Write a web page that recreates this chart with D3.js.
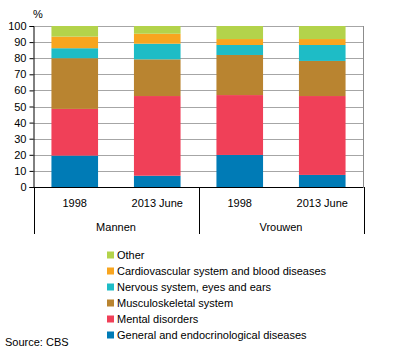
<!DOCTYPE html>
<html>
<head>
<meta charset="utf-8">
<script src="https://cdn.jsdelivr.net/npm/d3@7"></script>
<style>
body { margin: 0; background: #fff; }
text { font-family: "Liberation Sans", Arial, sans-serif; font-size: 11px; fill: #000; }
</style>
</head>
<body>
<div id="chart"></div>
<script>
// categories
const groups = ["Mannen", "Vrouwen"];
const periods = ["1998", "2013 June"];
const series = ["General and endocrinological diseases", "Mental disorders", "Musculoskeletal system",
    "Nervous system, eyes and ears", "Cardiovascular system and blood diseases", "Other"];
const colors = ["#007bb6", "#f04058", "#b98430", "#1ebcc6", "#f8a51f", "#b3d34b"];

// values per bar: Mannen 1998, Mannen 2013 June, Vrouwen 1998, Vrouwen 2013 June
const general = [19.5, 7.0, 19.9, 7.5];
const mental = [29.0, 49.5, 37.2, 49.0];
const musculo = [31.5, 22.8, 24.9, 21.8];
const nervous = [6.2, 9.7, 6.2, 9.9];
const cardio = [7.2, 6.2, 3.7, 3.7];
const other = [6.6, 4.8, 8.1, 8.1];
const yTicks = [0, 10, 20, 30, 40, 50, 60, 70, 80, 90, 100];

const values = [general, mental, musculo, nervous, cardio, other];
const bars = [];
groups.forEach(function (g) {
    periods.forEach(function (p) {
        bars.push({group: g, period: p, key: g + "|" + p});
    });
});
bars.forEach(function (b, i) {
    series.forEach(function (s, j) {
        b[s] = values[j][i];
    });
});

const width = 396, height = 351;
const margin = {left: 33.5, right: 363.5, top: 26, bottom: 187};

const svg = d3.select("#chart").append("svg")
    .attr("width", width)
    .attr("height", height);

const x = d3.scaleBand().domain(bars.map(d => d.key)).range([margin.left, margin.right]).paddingInner(0.435).paddingOuter(0.2175);
const y = d3.scaleLinear().domain([0, 100]).range([margin.bottom, margin.top]);

// grid
svg.append("g").selectAll("line")
    .data(yTicks.filter(d => d > 0))
    .enter().append("line")
    .attr("x1", margin.left).attr("x2", margin.right)
    .attr("y1", d => Math.round(y(d)) + 0.5).attr("y2", d => Math.round(y(d)) + 0.5)
    .attr("stroke", "#a6a6a6");

svg.append("line")
    .attr("x1", margin.right).attr("x2", margin.right)
    .attr("y1", margin.top).attr("y2", margin.bottom)
    .attr("stroke", "#8c8c8c");

// stacked bars
const stack = d3.stack().keys(series)(bars);
svg.append("g").selectAll("g")
    .data(stack)
    .enter().append("g")
    .attr("fill", (d, i) => colors[i])
    .selectAll("rect")
    .data(d => d)
    .enter().append("rect")
    .attr("x", d => x(d.data.key))
    .attr("width", x.bandwidth())
    .attr("y", d => y(d[1]))
    .attr("height", d => y(d[0]) - y(d[1]));

// y axis
const yAxis = svg.append("g")
    .attr("transform", "translate(" + margin.left + ",0)")
    .call(d3.axisLeft(y).tickValues(yTicks).tickSize(4).tickPadding(3));
yAxis.select(".domain").attr("stroke", "#000");
yAxis.selectAll("text").style("font-family", "Liberation Sans, Arial, sans-serif").style("font-size", "11px");

svg.append("text")
    .attr("x", 33)
    .attr("y", 18)
    .text("%");

// x axis with two rows
svg.append("line")
    .attr("x1", margin.left).attr("x2", margin.right)
    .attr("y1", margin.bottom + 0.5).attr("y2", margin.bottom + 0.5)
    .attr("stroke", "#000");

const sepX = [margin.left, (margin.left + margin.right) / 2, margin.right];
svg.append("g").selectAll("line")
    .data(sepX)
    .enter().append("line")
    .attr("x1", d => Math.round(d) + 0.5).attr("x2", d => Math.round(d) + 0.5)
    .attr("y1", margin.bottom).attr("y2", 234)
    .attr("stroke", "#000");

svg.append("g").selectAll("text")
    .data(bars)
    .enter().append("text")
    .attr("x", d => x(d.key) + x.bandwidth() / 2)
    .attr("y", 207)
    .attr("text-anchor", "middle")
    .text(d => d.period);

svg.append("g").selectAll("text")
    .data(groups)
    .enter().append("text")
    .attr("x", (d, i) => (sepX[i] + sepX[i + 1]) / 2)
    .attr("y", 231)
    .attr("text-anchor", "middle")
    .text(d => d);

// legend, reversed order
const legend = svg.append("g").selectAll("g")
    .data(series.slice().reverse())
    .enter().append("g")
    .attr("transform", (d, i) => "translate(107," + (255 + i * 16) + ")");

legend.append("rect")
    .attr("x", 0).attr("y", -3.5)
    .attr("width", 7).attr("height", 7)
    .attr("fill", d => colors[series.indexOf(d)]);

legend.append("text")
    .attr("x", 10)
    .attr("y", 4)
    .text(d => d);

svg.append("text")
    .attr("x", 5)
    .attr("y", 346)
    .text("Source: CBS");
</script>
</body>
</html>
